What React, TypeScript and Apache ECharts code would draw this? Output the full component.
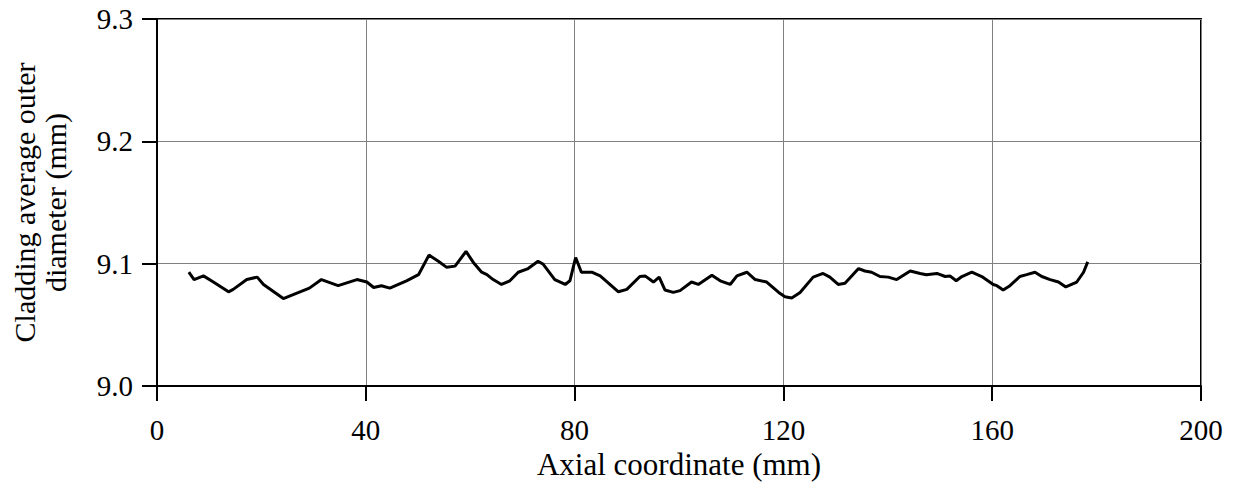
import React, { useEffect, useRef } from "react";
import * as echarts from "echarts";

const axialMm = [
  6.1, 7.1, 8.9, 10.8, 13.7, 14.6, 17.2, 19.2, 20.4, 24.2, 26.8, 29.2, 31.5, 34.7, 38.3, 40.2,
  41.5, 43.0, 44.6, 47.8, 50.1, 52.1, 53.9, 55.5, 57.1, 59.2, 60.6, 62.2, 63.2, 64.4, 66.0, 67.6,
  69.2, 71.1, 73.0, 74.0, 76.2, 78.2, 79.1, 80.2, 81.3, 83.3, 84.9, 88.4, 90.0, 92.5, 93.5, 95.1,
  96.2, 97.3, 98.9, 100.2, 102.4, 103.7, 106.3, 107.9, 109.8, 111.1, 113.0, 114.6, 116.8, 119.1,
  120.3, 121.6, 123.2, 125.7, 127.6, 128.9, 130.5, 131.8, 134.4, 135.6, 136.9, 138.5, 140.1, 141.7,
  144.3, 146.2, 147.4, 149.4, 151.0, 151.9, 153.1, 154.2, 156.1, 158.0, 160.2, 160.9, 162.1, 163.4,
  165.3, 166.6, 168.2, 169.5, 171.1, 172.7, 174.1, 176.2, 177.5, 178.3,
];

const diameterMm = [
  9.093, 9.087, 9.09, 9.085, 9.077, 9.079, 9.087, 9.089, 9.083, 9.0715, 9.076, 9.08, 9.087, 9.082,
  9.087, 9.085, 9.0805, 9.082, 9.08, 9.086, 9.091, 9.107, 9.102, 9.097, 9.098, 9.11, 9.101, 9.093,
  9.091, 9.087, 9.083, 9.086, 9.093, 9.096, 9.102, 9.0995, 9.087, 9.083, 9.086, 9.105, 9.093, 9.093,
  9.09, 9.077, 9.079, 9.0895, 9.09, 9.085, 9.089, 9.0785, 9.0765, 9.078, 9.085, 9.083, 9.0905,
  9.086, 9.083, 9.09, 9.093, 9.087, 9.085, 9.0765, 9.073, 9.072, 9.0765, 9.089, 9.092, 9.089, 9.083,
  9.084, 9.096, 9.094, 9.093, 9.0895, 9.089, 9.087, 9.094, 9.092, 9.091, 9.092, 9.0895, 9.09, 9.086,
  9.0895, 9.093, 9.0895, 9.083, 9.082, 9.0785, 9.082, 9.0895, 9.091, 9.093, 9.0895, 9.087, 9.085,
  9.081, 9.085, 9.093, 9.1015,
];

const xAxisTitle = "Axial coordinate (mm)";
const yAxisTitle = "Cladding average outer\ndiameter (mm)";

export default function App() {
  const ref = useRef<HTMLDivElement>(null);

  useEffect(() => {
    document.body.style.margin = "0";
    if (!ref.current) return;
    const chart = echarts.init(ref.current, null, { renderer: "svg" });
    const font = "Liberation Serif";
    chart.setOption({
      animation: false,
      backgroundColor: "#ffffff",
      grid: {
        left: 157,
        right: 35,
        top: 19,
        bottom: 100,
        show: true,
        borderColor: "#000000",
        borderWidth: 2,
        backgroundColor: "transparent",
      },
      xAxis: {
        type: "value",
        min: 0,
        max: 200,
        interval: 40,
        name: xAxisTitle,
        nameLocation: "middle",
        nameGap: 57,
        nameTextStyle: { fontFamily: font, fontSize: 31, color: "#000" },
        axisLine: { show: true, onZero: false, lineStyle: { color: "#000", width: 2 } },
        axisTick: { show: true, length: 15, lineStyle: { color: "#000", width: 2 } },
        axisLabel: { margin: 29, fontFamily: font, fontSize: 29, color: "#000" },
        splitLine: { show: true, lineStyle: { color: "#808080", width: 1 } },
      },
      yAxis: {
        type: "value",
        min: 9.0,
        max: 9.3,
        interval: 0.1,
        name: yAxisTitle,
        nameLocation: "middle",
        nameGap: 86,
        nameTextStyle: { fontFamily: font, fontSize: 30, color: "#000", lineHeight: 31 },
        axisLine: { show: true, lineStyle: { color: "#000", width: 2 } },
        axisTick: { show: true, length: 15, lineStyle: { color: "#000", width: 2 } },
        axisLabel: {
          margin: 24,
          fontFamily: font,
          fontSize: 29,
          color: "#000",
          formatter: (v: number) => v.toFixed(1),
        },
        splitLine: { show: true, lineStyle: { color: "#808080", width: 1 } },
      },
      series: [
        {
          type: "line",
          data: axialMm.map((x, i) => [x, diameterMm[i]]),
          showSymbol: false,
          symbol: "none",
          lineStyle: { color: "#000", width: 3 },
          silent: true,
        },
      ],
    });
    return () => chart.dispose();
  }, []);

  return <div ref={ref} style={{ width: 1236, height: 486 }} />;
}
